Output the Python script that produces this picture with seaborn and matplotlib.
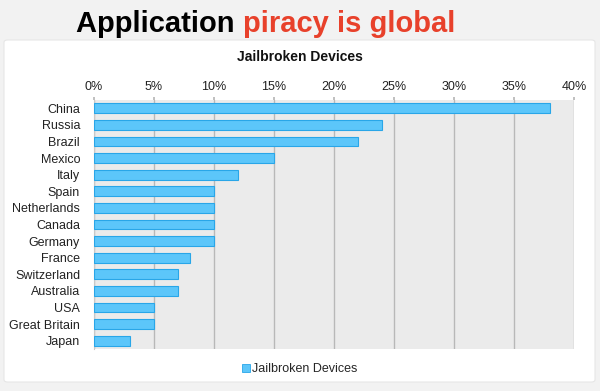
import pandas as pd
import matplotlib
matplotlib.use("Agg")
import matplotlib.pyplot as plt
import seaborn as sns
from matplotlib.patches import FancyBboxPatch, Patch
from matplotlib.ticker import PercentFormatter

# chart data
countries = ["China", "Russia", "Brazil", "Mexico", "Italy", "Spain", "Netherlands",
             "Canada", "Germany", "France", "Switzerland", "Australia", "USA",
             "Great Britain", "Japan"]
jailbroken = [38, 24, 22, 15, 12, 10, 10, 10, 10, 8, 7, 7, 5, 5, 3]
x_ticks = [0, 5, 10, 15, 20, 25, 30, 35, 40]

df = pd.DataFrame({"country": countries, "share": jailbroken})

sns.set_theme(style="white")
plt.rcParams["font.family"] = ["Liberation Sans", "DejaVu Sans"]

fig = plt.figure(figsize=(6, 3.91), dpi=100)
fig.patch.set_facecolor("#f2f2f2")

# white chart panel behind the axes
panel = FancyBboxPatch((4 / 600, 1 - 382 / 391), 591 / 600, 342 / 391,
                       boxstyle="round,pad=0,rounding_size=0.006",
                       transform=fig.transFigure, facecolor="white",
                       edgecolor="#e6e6e6", linewidth=0.8, zorder=-5)
fig.patches.append(panel)

ax = fig.add_axes([94 / 600, 1 - 349 / 391, 480 / 600, 249 / 391])
ax.set_facecolor("#ebebeb")

sns.barplot(data=df, x="share", y="country", orient="h", ax=ax, width=0.6,
            color="#5cc6fa", edgecolor="#29a6e8", linewidth=0.8, saturation=1,
            zorder=3)

ax.set_xlim(0, 40)
ax.set_xticks(x_ticks)
ax.xaxis.set_major_formatter(PercentFormatter(decimals=0))
ax.xaxis.tick_top()
ax.tick_params(axis="x", length=2, color="#b8b8b8", labelsize=9, pad=3,
               labelcolor="#222222")
ax.tick_params(axis="y", length=0, labelsize=9, pad=10, labelcolor="#222222")
ax.grid(axis="x", color="#b8b8b8", linewidth=1, zorder=0)
ax.set_axisbelow(True)
for side in ["top", "right", "bottom"]:
    ax.spines[side].set_visible(False)
ax.spines["left"].set_color("#c8c8c8")
ax.spines["left"].set_linewidth(0.8)
ax.set_xlabel("")
ax.set_ylabel("")

fig.text(0.5, 1 - 57 / 391, "Jailbroken Devices", ha="center", va="center",
         fontsize=10, fontweight="bold", color="#111111")

# two-colour title
t1 = fig.text(76 / 600, 1 - 32 / 391, "Application ", ha="left", va="baseline",
              fontsize=21, fontweight="bold", color="black")
fig.canvas.draw()
bb = t1.get_window_extent()
fig.text(bb.x1 / fig.bbox.width, 1 - 32 / 391, "piracy is global", ha="left",
         va="baseline", fontsize=21, fontweight="bold", color="#e8412b")

fig.legend(handles=[Patch(facecolor="#5cc6fa", edgecolor="#29a6e8", linewidth=0.6)],
           labels=["Jailbroken Devices"], loc="center", bbox_to_anchor=(300 / 600, 1 - 369 / 391),
           frameon=False, fontsize=9, handlelength=0.6, handleheight=0.6,
           handletextpad=0.2)

fig.savefig("out.png", dpi=100, facecolor=fig.get_facecolor())
